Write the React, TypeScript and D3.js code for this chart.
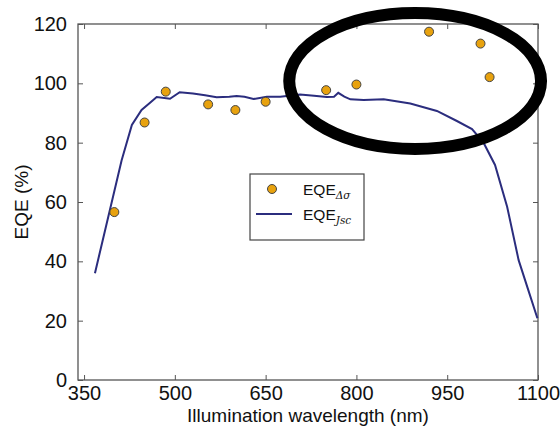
import { useEffect, useRef } from "react";
import * as d3 from "d3";

// measured points (EQE from delta sigma)
const dotWavelengths = [400, 450, 485, 555, 600, 650, 750, 800, 920, 1005, 1020];
const dotEqe = [56.6, 86.8, 97.2, 92.9, 91.0, 93.8, 97.7, 99.6, 117.4, 113.4, 102.1];

// EQE from Jsc curve
const lineWavelengths = [
  368, 412, 429, 445, 460, 470, 492, 508, 530, 550, 569, 590, 602, 615, 630, 652,
  674, 707, 730, 751, 763, 770, 780, 790, 812, 845, 889, 933, 966, 991, 1010,
  1029, 1049, 1068, 1084, 1099,
];
const lineEqe = [
  36, 74, 86, 91, 93.6, 95.4, 94.8, 97.0, 96.6, 96.0, 95.3, 95.5, 95.7, 95.5, 94.7,
  95.5, 95.5, 96.2, 95.8, 95.4, 95.5, 96.8, 95.5, 94.6, 94.4, 94.6, 93.2, 90.7,
  87.3, 84.6, 80.0, 72.5, 58.4, 40.4, 30.3, 20.8,
];

const xTicks = [350, 500, 650, 800, 950, 1100];
const yTicks = [0, 20, 40, 60, 80, 100, 120];

// hand-drawn highlight ellipse, in data units
const highlight = { wl: 897, eqe: 100.8, rWl: 208, rEqe: 22.9 };

const App = () => {
  const svgRef = useRef<SVGSVGElement>(null);

  useEffect(() => {
    const width = 560;
    const height = 428;
    const margin = { top: 24, right: 22, bottom: 48, left: 78 };
    const innerWidth = width - margin.left - margin.right;
    const innerHeight = height - margin.top - margin.bottom;
    const font = "'Liberation Sans', Arial, sans-serif";
    const axisColor = "#555";

    const svg = d3.select(svgRef.current);
    svg.selectAll("*").remove();
    svg.attr("width", width).attr("height", height);

    const g = svg
      .append("g")
      .attr("transform", `translate(${margin.left},${margin.top})`);

    const x = d3.scaleLinear().domain([340, 1100]).range([0, innerWidth]);
    const y = d3.scaleLinear().domain([0, 120]).range([innerHeight, 0]);

    // frame
    g.append("rect")
      .attr("width", innerWidth)
      .attr("height", innerHeight)
      .attr("fill", "none")
      .attr("stroke", axisColor)
      .attr("stroke-width", 1.3);

    const styleAxis = (sel: any, labels: boolean) => {
      sel.select(".domain").remove();
      sel.selectAll("line").attr("stroke", axisColor);
      if (labels) {
        sel.selectAll("text")
          .attr("fill", "#111")
          .style("font-family", font)
          .style("font-size", "20px");
      } else {
        sel.selectAll("text").remove();
      }
    };

    // inward ticks on all four sides
    g.append("g")
      .attr("transform", `translate(0,${innerHeight})`)
      .call(d3.axisBottom(x).tickValues(xTicks).tickSize(-5).tickPadding(6).tickFormat(d3.format("d")))
      .call((s) => styleAxis(s, true));
    g.append("g")
      .call(d3.axisTop(x).tickValues(xTicks).tickSize(-5))
      .call((s) => styleAxis(s, false));
    g.append("g")
      .call(d3.axisLeft(y).tickValues(yTicks).tickSize(-5).tickPadding(11))
      .call((s) => styleAxis(s, true));
    g.append("g")
      .attr("transform", `translate(${innerWidth},0)`)
      .call(d3.axisRight(y).tickValues(yTicks).tickSize(-5))
      .call((s) => styleAxis(s, false));

    // Jsc curve
    const lineData = lineWavelengths.map((w, i) => [w, lineEqe[i]] as [number, number]);
    const line = d3
      .line<[number, number]>()
      .x((d) => x(d[0]))
      .y((d) => y(d[1]));
    g.append("path")
      .datum(lineData)
      .attr("fill", "none")
      .attr("stroke", "#2b2d7e")
      .attr("stroke-width", 2)
      .attr("d", line);

    // dots
    g.selectAll(".dot")
      .data(dotWavelengths.map((w, i) => [w, dotEqe[i]]))
      .enter()
      .append("circle")
      .attr("class", "dot")
      .attr("cx", (d) => x(d[0]))
      .attr("cy", (d) => y(d[1]))
      .attr("r", 4.5)
      .attr("fill", "#e8a20e")
      .attr("stroke", "#444")
      .attr("stroke-width", 1);

    // legend
    const legend = g.append("g").attr("transform", `translate(${250 - margin.left},${174 - margin.top})`);
    legend
      .append("rect")
      .attr("width", 114)
      .attr("height", 66)
      .attr("fill", "white")
      .attr("stroke", "#444")
      .attr("stroke-width", 1.2);
    legend
      .append("circle")
      .attr("cx", 22)
      .attr("cy", 15)
      .attr("r", 4.5)
      .attr("fill", "#e8a20e")
      .attr("stroke", "#444");
    legend
      .append("line")
      .attr("x1", 6)
      .attr("x2", 42)
      .attr("y1", 40)
      .attr("y2", 40)
      .attr("stroke", "#2b2d7e")
      .attr("stroke-width", 2);

    const entries = [
      { sub: "Δσ", y: 21 },
      { sub: "Jsc", y: 46 },
    ];
    entries.forEach((e) => {
      const t = legend
        .append("text")
        .attr("x", 53)
        .attr("y", e.y)
        .attr("fill", "#111")
        .style("font-family", font)
        .style("font-size", "15.5px");
      t.append("tspan").text("EQE");
      t.append("tspan")
        .attr("dy", 4)
        .style("font-family", "'DejaVu Serif', 'Liberation Serif', serif")
        .style("font-style", "italic")
        .style("font-size", "10.5px")
        .text(e.sub);
    });

    // axis labels
    g.append("text")
      .attr("x", innerWidth / 2)
      .attr("y", innerHeight + 42)
      .attr("text-anchor", "middle")
      .attr("fill", "#111")
      .style("font-family", font)
      .style("font-size", "19px")
      .text("Illumination wavelength (nm)");
    g.append("text")
      .attr("transform", "rotate(-90)")
      .attr("x", -innerHeight / 2)
      .attr("y", -margin.left + 28)
      .attr("text-anchor", "middle")
      .attr("fill", "#111")
      .style("font-family", font)
      .style("font-size", "19px")
      .text("EQE (%)");

    // highlight ellipse drawn over everything
    g.append("ellipse")
      .attr("cx", x(highlight.wl))
      .attr("cy", y(highlight.eqe))
      .attr("rx", x(highlight.wl + highlight.rWl) - x(highlight.wl))
      .attr("ry", y(highlight.eqe - highlight.rEqe) - y(highlight.eqe))
      .attr("fill", "none")
      .attr("stroke", "#000")
      .attr("stroke-width", 12);
  }, []);

  return (
    <svg
      ref={svgRef}
      style={{ position: "fixed", left: 0, top: 0, background: "white" }}
    ></svg>
  );
};

export default App;
